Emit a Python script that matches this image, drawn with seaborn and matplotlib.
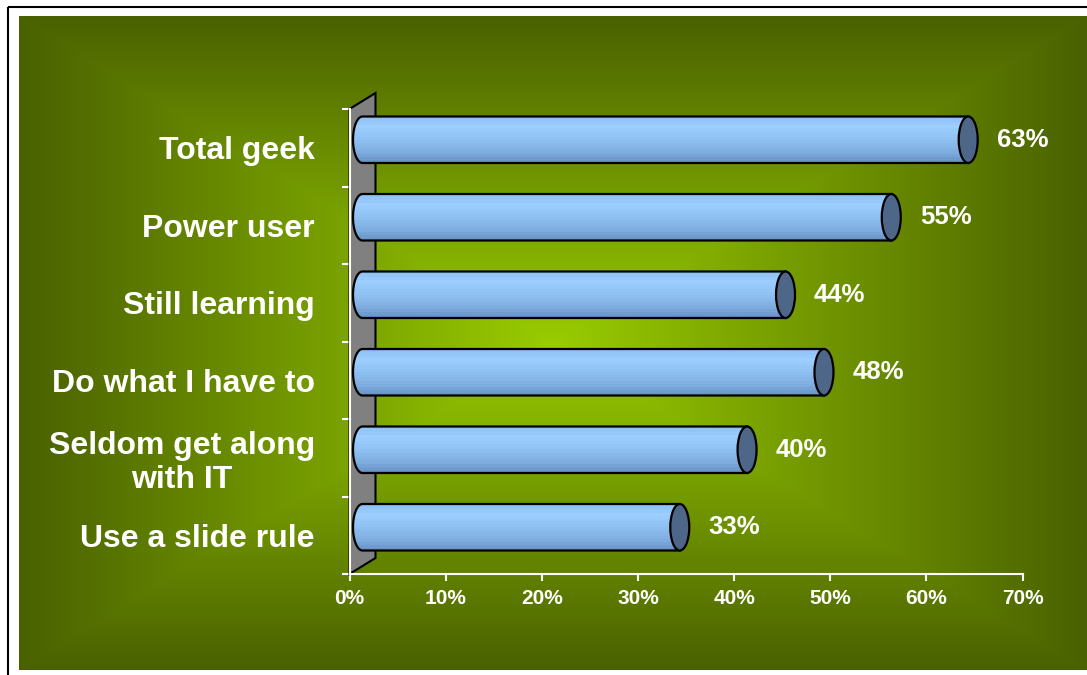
import numpy as np
import matplotlib
matplotlib.use("Agg")
import matplotlib.pyplot as plt
import seaborn as sns
from matplotlib.patches import Rectangle, Ellipse, Polygon, PathPatch
from matplotlib.path import Path
from matplotlib.colors import LinearSegmentedColormap

# ---- data -------------------------------------------------------------
categories = [
    "Total geek",
    "Power user",
    "Still learning",
    "Do what I have to",
    "Seldom get along\nwith IT",
    "Use a slide rule",
]
shares = [63, 55, 44, 48, 40, 33]
x_ticks = [0, 10, 20, 30, 40, 50, 60, 70]
x_tick_labels = [f"{t}%" for t in x_ticks]

# ---- figure -----------------------------------------------------------
W, H, DPI = 1087, 675, 100
sns.set_theme(style="white")
plt.rcParams["font.family"] = ["Liberation Sans", "DejaVu Sans"]
plt.rcParams["font.weight"] = "bold"

fig = plt.figure(figsize=(W / DPI, H / DPI), dpi=DPI, facecolor="white")

# background panel: rectangular centre-out gradient inside a thin frame
bg = fig.add_axes([0, 0, 1, 1], zorder=0)
bg.set_xlim(0, W)
bg.set_ylim(H, 0)
bg.axis("off")
gx0, gx1, gy0, gy1 = 19, W, 16, 670
xx, yy = np.meshgrid(np.linspace(gx0, gx1, 600), np.linspace(gy0, gy1, 380))
cx, cy = (gx0 + gx1) / 2, (gy0 + gy1) / 2
t = np.maximum(np.abs(xx - cx) / ((gx1 - gx0) / 2), np.abs(yy - cy) / ((gy1 - gy0) / 2))
f = 1 - np.clip(t, 0, 1)
centre = np.array([153, 204, 0]) / 255
edge = np.array([74, 97, 0]) / 255
img = edge + (centre - edge) * f[..., None]
bg.imshow(img, extent=(gx0, gx1, gy1, gy0), interpolation="bilinear", aspect="auto")
bg.add_patch(Rectangle((7.5, 7), W + 10, H + 10, fill=False, ec="black", lw=1.5))

# ---- plot area --------------------------------------------------------
x_max = 70
slot_px = 77.5
ax_left, ax_right, ax_bottom = 349.5, 1022.5, 574
y_top_extra = 0.25
ax_h = slot_px * (len(categories) + y_top_extra)
ax = fig.add_axes([ax_left / W, (H - ax_bottom) / H, (ax_right - ax_left) / W, ax_h / H], zorder=2)
ax.patch.set_alpha(0)

sns.barplot(x=shares, y=categories, orient="h", width=0.6, errorbar=None,
            color="#99CCFF", ax=ax)

ax.set_xlim(0, x_max)
ax.set_ylim(len(categories) - 0.5, -0.5 - y_top_extra)
ax.set_xlabel("")
ax.set_ylabel("")

px_x = (ax_right - ax_left) / x_max
px_y = slot_px
wall_dx = 26 / px_x
wall_dy = 16 / px_y

# back wall
n = len(categories)
wall = Polygon([(0, n - 0.5), (0, -0.5), (wall_dx, -0.5 - wall_dy), (wall_dx, n - 0.5 - wall_dy)],
               closed=True, fc="#808080", ec="black", lw=1.5, zorder=1, clip_on=False)
ax.add_patch(wall)

# cylinders built from the bar geometry
body_cmap = LinearSegmentedColormap.from_list(
    "cyl", [(0.0, "#8EC1F4"), (0.2, "#9CCEFF"), (0.5, "#8FC0F2"), (0.8, "#7EACDE"), (1.0, "#6A93C6")])
cap_color = "#4E6688"
rx = 9.5 / px_x
bx, by = wall_dx / 2, -wall_dy / 2
n_bands = 16

for p in list(ax.patches):
    if not isinstance(p, Rectangle) or p is ax.patch:
        continue
    v = p.get_width()
    h = p.get_height()
    yc = p.get_y() + h / 2 + by
    p.set_visible(False)
    top, bot = yc - h / 2, yc + h / 2

    theta = np.linspace(np.pi / 2, 3 * np.pi / 2, 50)
    left_x = bx + rx * np.cos(theta)
    left_y = yc - (h / 2) * np.sin(theta)
    verts = list(zip(left_x, left_y)) + [(bx + v, bot), (bx + v, top), (left_x[0], left_y[0])]
    codes = [Path.MOVETO] + [Path.LINETO] * (len(verts) - 2) + [Path.CLOSEPOLY]
    body = PathPatch(Path(verts, codes), fc="none", ec="black", lw=1.6, zorder=4, clip_on=False)
    ax.add_patch(body)

    for k in range(n_bands):
        band = Rectangle((bx - rx, top + k * h / n_bands), v + rx, h / n_bands + 0.002,
                         fc=body_cmap(k / (n_bands - 1)), ec="none", zorder=3)
        ax.add_patch(band)
        band.set_clip_path(body)

    ax.add_patch(Ellipse((bx + v, yc), 2 * rx, h, fc=cap_color, ec="black", lw=1.6,
                         zorder=5, clip_on=False))

    ax.annotate(f"{v:g}%", xy=(bx + v + rx, yc), xytext=(19 * 0.72, 0),
                textcoords="offset points", ha="left", va="center",
                color="white", fontsize=18.5, fontweight="bold", annotation_clip=False)

# axes styling
for side in ("top", "right"):
    ax.spines[side].set_visible(False)
for side in ("left", "bottom"):
    ax.spines[side].set_color("white")
    ax.spines[side].set_linewidth(1.5)
    ax.spines[side].set_zorder(2.5)
ax.spines["left"].set_bounds(-0.5, n - 0.5)

ax.set_xticks(x_ticks, x_tick_labels)
ax.tick_params(axis="x", bottom=True, length=5, width=1.5, color="white", pad=5.5,
               labelsize=15, labelcolor="white")
for lbl in ax.get_xticklabels():
    lbl.set_fontweight("bold")

ax.set_yticks(np.arange(-0.5, n, 1), minor=True)
ax.tick_params(axis="y", which="minor", left=True, length=6, width=1.5, color="white")
ax.tick_params(axis="y", which="major", left=False, length=0, pad=25,
               labelsize=23, labelcolor="white")
for lbl in ax.get_yticklabels():
    lbl.set_fontweight("bold")
    lbl.set_multialignment("center")
    lbl.set_linespacing(1.15)

fig.savefig("out.png", dpi=DPI, facecolor="white")
